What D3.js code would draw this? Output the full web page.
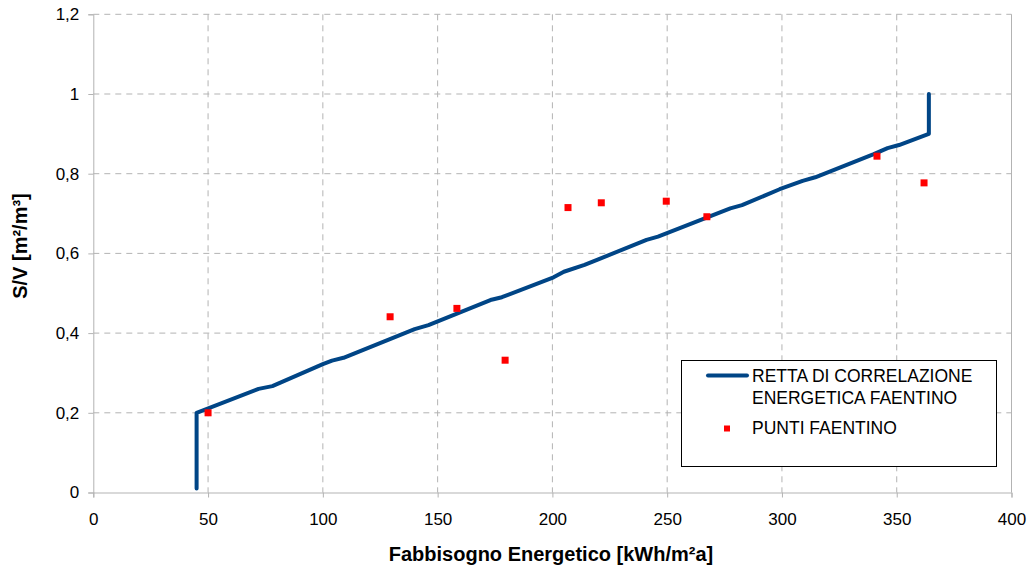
<!DOCTYPE html>
<html>
<head>
<meta charset="utf-8">
<script src="https://cdn.jsdelivr.net/npm/d3@7"></script>
<style>
  html, body { margin: 0; padding: 0; background: #fff; }
  svg { display: block; font-family: "Liberation Sans", Arial, sans-serif; }
</style>
</head>
<body>
<svg id="chart" width="1031" height="571"></svg>
<script>
// Correlation line (energy demand vs. S/V ratio)
const lineX = [45, 45, 72, 78, 100, 104, 109, 140, 146, 173, 178, 200.5, 205, 214, 220, 241, 246, 277.5, 282.6, 299, 309, 314.5, 340, 346, 351, 364, 364];
const lineY = [0.01, 0.2, 0.26, 0.267, 0.322, 0.331, 0.338, 0.41, 0.42, 0.483, 0.49, 0.54, 0.554, 0.571, 0.585, 0.634, 0.642, 0.713, 0.721, 0.761, 0.782, 0.791, 0.849, 0.864, 0.872, 0.9, 1.0];

// Measured buildings
const pointX = [50, 129.3, 158.4, 179.4, 206.8, 221.3, 249.6, 267.3, 341.4, 361.9];
const pointY = [0.20, 0.441, 0.462, 0.332, 0.715, 0.727, 0.731, 0.692, 0.844, 0.777];

const xTicks = [0, 50, 100, 150, 200, 250, 300, 350, 400];
const yTicks = [0, 0.2, 0.4, 0.6, 0.8, 1.0, 1.2];

const seriesNames = ["RETTA DI CORRELAZIONE", "ENERGETICA FAENTINO", "PUNTI FAENTINO"];
const xTitle = "Fabbisogno Energetico [kWh/m²a]";
const yTitle = "S/V [m²/m³]";

(function draw() {
  const svg = d3.select("#chart");
  const pLeft = 93.3, pRight = 1011.5, pTop = 14.3, pBottom = 492.5;

  const x = d3.scaleLinear().domain([0, 400]).range([pLeft, pRight]);
  const y = d3.scaleLinear().domain([0, 1.2]).range([pBottom, pTop]);

  const gridColor = "#b3b3b3";
  const fmt = v => String(+v.toFixed(1)).replace(".", ",");

  // grid
  const grid = svg.append("g");
  grid.selectAll("line.gx").data(xTicks.filter(t => t > 0 && t < 400)).join("line")
    .attr("class", "gx")
    .attr("x1", d => x(d)).attr("x2", d => x(d))
    .attr("y1", pTop).attr("y2", pBottom)
    .attr("stroke", gridColor).attr("stroke-dasharray", "6,5");
  grid.selectAll("line.gy").data(yTicks.filter(t => t > 0)).join("line")
    .attr("class", "gy")
    .attr("x1", pLeft).attr("x2", pRight)
    .attr("y1", d => y(d)).attr("y2", d => y(d))
    .attr("stroke", gridColor).attr("stroke-dasharray", "6,5");
  grid.append("line")
    .attr("x1", x(400)).attr("x2", x(400)).attr("y1", pTop).attr("y2", pBottom)
    .attr("stroke", gridColor);

  // axes
  const xAxis = svg.append("g").attr("transform", `translate(0,${pBottom})`)
    .call(d3.axisBottom(x).tickValues(xTicks).tickSize(5).tickPadding(15).tickFormat(d => d));
  const yAxis = svg.append("g").attr("transform", `translate(${pLeft},0)`)
    .call(d3.axisLeft(y).tickValues(yTicks).tickSize(5).tickPadding(9).tickFormat(fmt));
  [xAxis, yAxis].forEach(a => {
    a.select(".domain").attr("stroke", gridColor);
    a.selectAll(".tick line").attr("stroke", gridColor);
    a.selectAll(".tick text").attr("fill", "#000").style("font-size", "17px")
      .style("font-family", "'Liberation Sans', Arial, sans-serif");
  });

  // correlation line
  const pts = lineX.map((v, i) => [v, lineY[i]]);
  svg.append("path")
    .attr("d", d3.line().x(d => x(d[0])).y(d => y(d[1]))(pts))
    .attr("fill", "none").attr("stroke", "#004586")
    .attr("stroke-width", 4).attr("stroke-linejoin", "round").attr("stroke-linecap", "round");

  // points
  svg.append("g").selectAll("rect").data(pointX.map((v, i) => [v, pointY[i]])).join("rect")
    .attr("x", d => x(d[0]) - 3.5).attr("y", d => y(d[1]) - 3.5)
    .attr("width", 7).attr("height", 7).attr("fill", "#ff0000");

  // axis titles
  svg.append("text").attr("x", 551).attr("y", 561)
    .attr("text-anchor", "middle").style("font-size", "20px").style("font-weight", "bold")
    .text(xTitle);
  svg.append("text").attr("transform", `translate(27,246) rotate(-90)`)
    .attr("text-anchor", "middle").style("font-size", "20px").style("font-weight", "bold")
    .text(yTitle);

  // legend
  const lg = svg.append("g");
  lg.append("rect").attr("x", 681.5).attr("y", 360.5).attr("width", 315).attr("height", 106)
    .attr("fill", "#fff").attr("stroke", "#000");
  lg.append("line").attr("x1", 708).attr("x2", 747).attr("y1", 375.5).attr("y2", 375.5)
    .attr("stroke", "#004586").attr("stroke-width", 4).attr("stroke-linecap", "round");
  lg.append("rect").attr("x", 724).attr("y", 425.5).attr("width", 6).attr("height", 6).attr("fill", "#ff0000");
  lg.selectAll("text").data(seriesNames).join("text")
    .attr("x", 752).attr("y", (d, i) => [382, 404, 433.5][i])
    .style("font-size", "17.5px").attr("fill", "#000").text(d => d);
})();
</script>
</body>
</html>
